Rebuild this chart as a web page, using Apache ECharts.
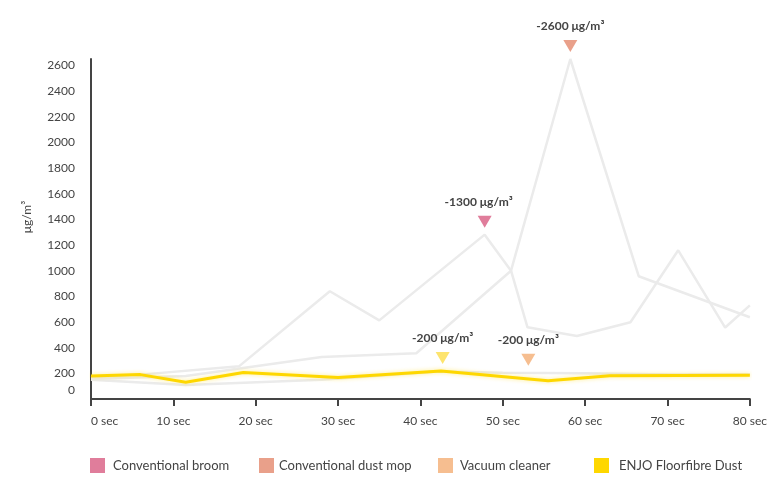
<!DOCTYPE html>
<html>
<head>
<meta charset="utf-8">
<script src="https://cdn.jsdelivr.net/npm/echarts@6/dist/echarts.min.js"></script>
<style>
html,body{margin:0;padding:0;background:#fff;}
#c{width:770px;height:492px;}
</style>
</head>
<body>
<div id="c"></div>
<script>
// ---- data ----
const seriesNames = ['Conventional broom', 'Conventional dust mop', 'Vacuum cleaner', 'ENJO Floorfibre Dust'];
const markerColors = ['#e07d9b', '#e9a08a', '#f6be90', '#fed700'];

const broomSec = [0, 6, 18, 29, 35, 47.8, 51, 53, 59, 65.5, 71.3, 77, 80];
const broomVal = [170, 190, 256, 840, 613, 1281, 1000, 559, 491, 598, 1159, 557, 730];

const mopSec = [0, 11.5, 28, 39.5, 51, 58.2, 66.5, 80];
const mopVal = [155, 180, 328, 357, 1000, 2650, 957, 637];

const vacSec = [0, 11.5, 28, 42, 50, 60, 70, 80];
const vacVal = [150, 109, 150, 215, 205, 200, 190, 190];

const enjoSec = [0, 6, 11.5, 18.5, 30, 42.5, 55.5, 63, 80];
const enjoVal = [180, 190, 130, 207, 168, 218, 142, 181, 186];

// peak annotations (broom, mop, vacuum, enjo)
const noteSec = [47.8, 58.2, 53.1, 42.7];
const noteVal = [1281, 2650, 205, 218];
const noteText = ['-1300 μg/m³', '-2600 μg/m³', '-200 μg/m³', '-200 μg/m³'];

const xTicks = [0, 10, 20, 30, 40, 50, 60, 70, 80];
const yTicks = [0, 200, 400, 600, 800, 1000, 1200, 1400, 1600, 1800, 2000, 2200, 2400, 2600];

// ---- build ----
const FONT = 'Lato';
const TXT = '#444444';
const GRAY = '#ebebeb';
const tri = 'path://M0,0 L14,0 L7,12 Z';
const noteSymbolColors = ['#e07d9b', '#e9a08a', '#f6be90', '#fde46e'];

function zip(a, b) { return a.map((v, i) => [v, b[i]]); }

function mark(i, dx) {
  return {
    symbol: tri,
    symbolSize: [14, 12],
    symbolOffset: [0, -13],
    silent: true,
    animation: false,
    itemStyle: { color: noteSymbolColors[i] },
    label: {
      show: true, position: 'top', distance: 8,
      offset: [dx || 0, 0],
      formatter: noteText[i],
      color: TXT, fontFamily: FONT, fontWeight: 'bold', fontSize: 12
    },
    data: [{ coord: [noteSec[i], noteVal[i]] }]
  };
}

const datasets = [zip(broomSec, broomVal), zip(mopSec, mopVal), zip(vacSec, vacVal), zip(enjoSec, enjoVal)];

const series = datasets.map((d, i) => ({
  name: seriesNames[i],
  type: 'line',
  data: d,
  symbol: 'none',
  z: i === 3 ? 5 : 2,
  color: markerColors[i],
  lineStyle: i === 3
    ? { color: '#fed700', width: 3, shadowColor: 'rgba(254,215,0,0.45)', shadowBlur: 4 }
    : { color: GRAY, width: 2.5 },
  markPoint: mark(i, i === 0 ? -6 : 0),
  animation: false
}));

const legendLeft = [90, 259, 438, 594];
const legendPad = [3, 0, 2, 5];
const legends = seriesNames.map((n, i) => ({
  data: [{ name: n, itemStyle: { color: markerColors[i] } }],
  left: legendLeft[i],
  top: 458,
  padding: 0,
  icon: 'rect',
  itemWidth: 15,
  itemHeight: 15,
  selectedMode: false,
  textStyle: { color: TXT, fontFamily: FONT, fontSize: 13, padding: [0, 0, 0, legendPad[i]] }
}));

const chart = echarts.init(document.getElementById('c'), null, { renderer: 'canvas' });
chart.setOption({
  backgroundColor: '#fff',
  animation: false,
  grid: { left: 91, right: 17, top: 59, bottom: 93 },
  legend: legends,
  graphic: [{
    type: 'text',
    x: 27, y: 217,
    rotation: Math.PI / 2,
    style: { text: 'μg/m³', fill: TXT, font: '12px ' + FONT, align: 'center', verticalAlign: 'middle' }
  }],
  xAxis: {
    type: 'value',
    min: xTicks[0], max: xTicks[xTicks.length - 1], interval: 10,
    axisLine: { show: true, lineStyle: { color: '#444', width: 2 } },
    axisTick: { show: true, length: 7, lineStyle: { color: '#444', width: 2 } },
    splitLine: { show: false },
    axisLabel: {
      margin: 16, color: TXT, fontFamily: FONT, fontSize: 12,
      alignMinLabel: 'left',
      formatter: v => (xTicks.indexOf(v) >= 0 ? v + ' sec' : '')
    }
  },
  yAxis: {
    type: 'value',
    min: 0, max: 2650, interval: 200,
    axisLine: { show: true, lineStyle: { color: '#444', width: 2 } },
    axisTick: { show: false },
    splitLine: { show: false },
    axisLabel: {
      margin: 16, color: TXT, fontFamily: FONT, fontSize: 12,
      formatter: v => (yTicks.indexOf(v) >= 0 ? (v === 0 ? '{z|0}' : String(v)) : ''),
      rich: { z: { color: TXT, fontFamily: FONT, fontSize: 12, padding: [0, 0, 18, 0] } }
    }
  },
  series: series
});
</script>
</body>
</html>
